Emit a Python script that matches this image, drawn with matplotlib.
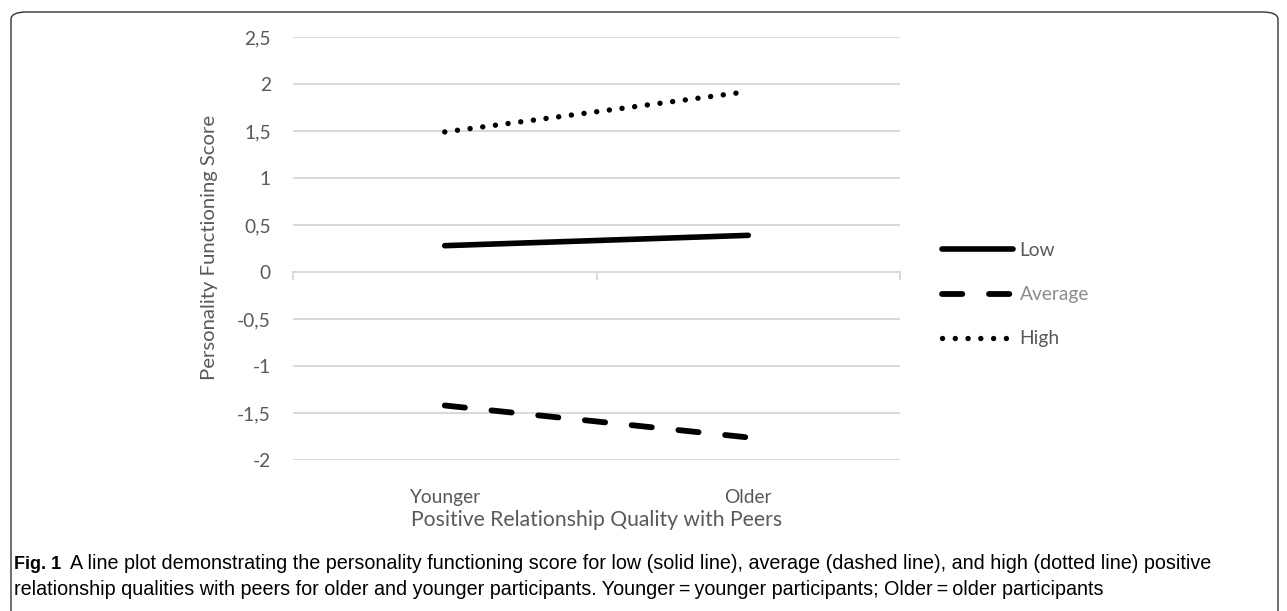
import matplotlib
matplotlib.use("Agg")
import matplotlib.pyplot as plt
from matplotlib.patches import FancyBboxPatch

# ---- data ----
categories = ["Younger", "Older"]
low_values = [0.28, 0.39]
average_values = [-1.42, -1.76]
high_values = [1.49, 1.92]
series_names = ["Low", "Average", "High"]
y_ticks = [-2, -1.5, -1, -0.5, 0, 0.5, 1, 1.5, 2, 2.5]
y_tick_labels = ["-2", "-1,5", "-1", "-0,5", "0", "0,5", "1", "1,5", "2", "2,5"]
x_label = "Positive Relationship Quality with Peers"
y_label = "Personality Functioning Score"
caption_bold = "Fig. 1"
caption_line1 = ("A line plot demonstrating the personality functioning score for low (solid line), "
                 "average (dashed line), and high (dotted line) positive")
caption_line2 = ("relationship qualities with peers for older and younger participants. "
                 "Younger\u2009=\u2009younger participants; Older\u2009=\u2009older participants")

W, H = 1287, 611
DPI = 100
plt.rcParams['font.family'] = ['Lato', 'DejaVu Sans']
fig = plt.figure(figsize=(W / DPI, H / DPI), dpi=DPI)

def fx(px):
    return px / W

def fy(py):
    return 1 - py / H

# frame
frame = FancyBboxPatch((fx(11), fy(640)), fx(1278) - fx(11), fy(12) - fy(640),
                       boxstyle="round,pad=0,rounding_size=0.012",
                       transform=fig.transFigure, fill=False, edgecolor="#333333",
                       linewidth=1.0, clip_on=False)
fig.patches.append(frame)

ax = fig.add_axes([fx(293), fy(460), fx(900) - fx(293), fy(37) - fy(460)])
grey = "#595959"
grid_c = "#d9d9d9"

x = list(range(len(categories)))
lw_low = 5.6 * 72 / DPI
lw_avg = 5.8 * 72 / DPI
lw_high = 5.4 * 72 / DPI

l1, = ax.plot(x, low_values, color="black", lw=lw_low, solid_capstyle="round", label=series_names[0])
l2, = ax.plot(x, average_values, color="black", lw=lw_avg, linestyle=(0, (3.5, 4.6)),
              dash_capstyle="round", label=series_names[1])
l3, = ax.plot(x, high_values, color="black", lw=lw_high, linestyle=(0, (0.01, 2.355)),
              dash_capstyle="round", label=series_names[2])

ax.set_xlim(-0.5, 1.5)
ax.set_ylim(-2, 2.5)
ax.set_yticks(y_ticks)
ax.set_yticklabels(y_tick_labels)
ax.set_xticks(x)
ax.set_xticklabels(categories)
for s in ax.spines.values():
    s.set_visible(False)
ax.yaxis.grid(True, color=grid_c, lw=1.4)
ax.set_axisbelow(True)
ax.tick_params(axis="both", length=0, labelsize=13.8, labelcolor=grey)
ax.tick_params(axis="y", pad=16)
ax.tick_params(axis="x", pad=0)
for lab in ax.get_xticklabels():
    lab.set_y(-0.068)

# category axis at y=0 with tick marks between categories
ax.axhline(0, color=grid_c, lw=1.4, zorder=0.5)
for tx in [-0.5, 0.5, 1.5]:
    ax.plot([tx, tx], [0, -0.07], color=grid_c, lw=1.4, zorder=0.5, clip_on=False)

fig.text(fx(597), fy(520), x_label, ha="center", va="center", fontsize=15.2, color=grey)
fig.text(fx(210), fy(247), y_label, ha="center", va="center", rotation=90, fontsize=14.6, color=grey)

leg = ax.legend(handles=[l1, l2, l3], loc="upper left", bbox_to_anchor=(fx(942), fy(242)),
                bbox_transform=fig.transFigure, frameon=False, fontsize=13.8,
                handlelength=3.7, handletextpad=0.35, labelspacing=1.42, borderpad=0,
                borderaxespad=0)
leg_colors = [grey, "#8c8c8c", grey]
for t, c in zip(leg.get_texts(), leg_colors):
    t.set_color(c)

# caption
cap_font = ['Liberation Sans', 'DejaVu Sans']
cap_size = 12.4
base1 = fy(569)
base2 = fy(595)
t_bold = fig.text(fx(14), base1, caption_bold, fontweight="bold", fontsize=13.0,
                  family=cap_font, va="baseline", ha="left", color="black")
fig.canvas.draw()
bb = t_bold.get_window_extent()
t1 = fig.text((bb.x1 + 9) / W, base1, caption_line1, fontsize=cap_size, family=cap_font,
              va="baseline", ha="left", color="black")
fig.canvas.draw()
b1 = t1.get_window_extent()
scale = (1210 - b1.x0) / (b1.x1 - b1.x0)
t1.set_fontsize(cap_size * scale)
fig.text(fx(14), base2, caption_line2, fontsize=cap_size * scale, family=cap_font,
         va="baseline", ha="left", color="black")

fig.savefig("out.png", dpi=DPI)
